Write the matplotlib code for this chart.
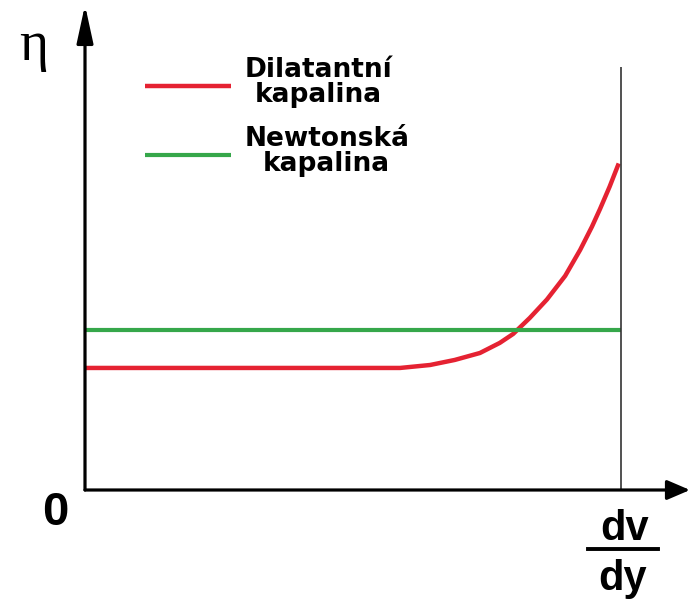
import matplotlib
matplotlib.use("Agg")
import matplotlib.pyplot as plt
from matplotlib.lines import Line2D

# shear rate (dv/dy) axis in arbitrary units, viscosity eta in arbitrary units
x_newton = [0.0, 1.0]
eta_newton = [1.0, 1.0]

x_dilat = [0.0, 0.40, 0.588, 0.644, 0.690, 0.737, 0.774, 0.799, 0.830, 0.862,
           0.896, 0.924, 0.946, 0.961, 0.979, 0.996]
eta_dilat = [0.7625, 0.7625, 0.7625, 0.781, 0.8125, 0.856, 0.919, 0.975, 1.075, 1.19,
             1.3375, 1.50, 1.645, 1.755, 1.895, 2.04]

x_end = 1.0          # right reference line
y_end_top = 2.64
x_lim = 1.129
y_lim = 3.03

labels = ["Dilatantní\nkapalina", "Newtonská\nkapalina"]
red = "#e52232"
green = "#36a74a"

W, H = 692, 611
fig = plt.figure(figsize=(W / 100, H / 100), dpi=100)
ax = fig.add_axes([85 / W, 121 / H, 605 / W, 485 / H])

l1, = ax.plot(x_dilat, eta_dilat, color=red, lw=3.2, solid_capstyle="butt")
l2, = ax.plot(x_newton, eta_newton, color=green, lw=3.0, solid_capstyle="butt")
ax.vlines(x_end, 0, y_end_top, color="#333333", lw=1.2)

ax.set_xlim(0, x_lim)
ax.set_ylim(0, y_lim)
for s in ax.spines.values():
    s.set_visible(False)
ax.set_xticks([])
ax.set_yticks([])
ax.patch.set_alpha(0)

# axes with arrow heads
ax.annotate("", xy=(1, 0), xytext=(0, 0), xycoords="axes fraction",
            arrowprops=dict(arrowstyle="-|>,head_length=0.7,head_width=0.3",
                            mutation_scale=20, lw=2.3, color="black",
                            shrinkA=0, shrinkB=0))
ax.annotate("", xy=(0, 1), xytext=(0, 0), xycoords="axes fraction",
            arrowprops=dict(arrowstyle="-|>,head_length=1.15,head_width=0.25",
                            mutation_scale=20, lw=2.3, color="black",
                            shrinkA=0, shrinkB=0))

leg = ax.legend([l1, l2], labels, loc="upper left",
                bbox_to_anchor=(145 / W, 1 - 57 / H), bbox_transform=fig.transFigure,
                frameon=False, borderpad=0, borderaxespad=0,
                handlelength=3.26, handleheight=0.0, handletextpad=0.5,
                labelspacing=0.68,
                prop={"family": "DejaVu Sans", "weight": "bold", "size": 19})
for t in leg.get_texts():
    t.set_multialignment("center")
    t.set_linespacing(0.95)

fig.text(34 / W, 1 - 60 / H, "η", fontsize=40, family="Liberation Serif",
         ha="center", va="baseline")
fig.text(55 / W, 1 - 525 / H, "0", fontsize=34, family="Liberation Sans",
         weight="bold", ha="center", va="baseline")
fig.text(625 / W, 1 - 540 / H, "dv", fontsize=30, family="Liberation Sans",
         weight="bold", ha="center", va="baseline")
fig.text(623 / W, 1 - 590 / H, "dy", fontsize=30, family="Liberation Sans",
         weight="bold", ha="center", va="baseline")
fig.add_artist(Line2D([588 / W, 658 / W], [1 - 549 / H, 1 - 549 / H],
                      transform=fig.transFigure, color="black", lw=2.8))

fig.savefig("out.png", dpi=100)
